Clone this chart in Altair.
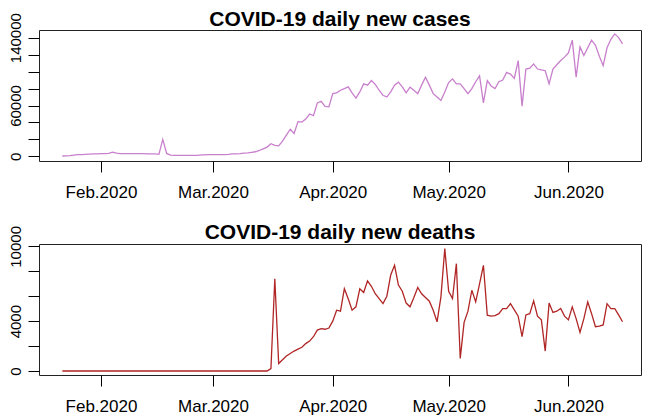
import altair as alt
import pandas as pd

# ---------------- data ----------------
start_date = "2020-01-22"

cases = [
    500, 700, 1000, 1500, 2000, 2200, 2500, 2700, 2900, 3000,
    3200, 3300, 3500, 5000, 3800, 3400, 3300, 3300, 3200, 3200,
    3200, 3200, 3100, 3100, 3000, 2500, 20000, 3500, 1500, 1200,
    1200, 1200, 1200, 1200, 1200, 1300, 1800, 1900, 2000, 2000,
    2100, 2200, 2200, 2300, 3000, 3000, 3300, 3800, 4200, 4800,
    5500, 7000, 9000, 11000, 15000, 13000, 12500, 18000, 25000, 32000,
    27000, 41000, 40500, 44000, 50000, 48000, 63000, 65000, 59000, 58500,
    74000, 75000, 78000, 80000, 82000, 75000, 68700, 76000, 85500, 84000,
    89400, 85000, 78000, 72000, 70000, 76000, 84000, 87500, 82000, 75000,
    81600, 78000, 74000, 84000, 93400, 84000, 74000, 70000, 66000, 76000,
    87000, 91400, 85500, 85500, 80000, 74000, 80000, 88000, 95000, 63000,
    89400, 83000, 80000, 88000, 90000, 99000, 97000, 92000, 113000, 59300,
    103000, 104000, 109000, 103000, 102000, 101000, 85500, 103000, 108000, 113000,
    117000, 122000, 137000, 93400, 129000, 119000, 128000, 137000, 131000, 118000,
    107000, 128000, 138000, 144400, 140000, 132600,
]

deaths = [0] * 54 + [
    200, 7400, 600, 900, 1200, 1400, 1600, 1750, 1900, 2200,
    2400, 2750, 3280, 3400, 3350, 3450, 4000, 4880, 4800, 6600,
    5800, 4880, 5150, 6600, 6300, 7230, 6800, 6200, 5800, 5410,
    6000, 7700, 8480, 6900, 6400, 5450, 5150, 5900, 6700, 6200,
    5900, 5600, 4880, 3950, 5950, 9820, 6400, 5810, 8610, 1010,
    3900, 4800, 6480, 5550, 7000, 8480, 4480, 4400, 4450, 4600,
    5010, 5000, 5400, 4900, 4400, 2750, 4500, 4600, 5630, 4400,
    4100, 1600, 5450, 4700, 4800, 5010, 4400, 4100, 5150, 4200,
    3100, 4200, 5550, 4600, 3550, 3600, 3700, 5400, 5000, 5000,
    4500, 3950,
]

month_ticks = [(2020, 2, 1), (2020, 3, 1), (2020, 4, 1), (2020, 5, 1), (2020, 6, 1)]
cases_ticks = [0, 20000, 40000, 60000, 80000, 100000, 120000, 140000]
cases_labels = [0, 60000, 140000]
deaths_ticks = [0, 2000, 4000, 6000, 8000, 10000]
deaths_labels = [0, 4000, 10000]

dates = pd.date_range(start_date, periods=len(cases), freq="D").strftime("%Y-%m-%d").tolist()
df = pd.DataFrame({"date": dates, "cases": cases, "deaths": deaths})

FONT = "Liberation Sans"

x_domain = [
    alt.DateTime(year=2020, month=1, date=15, hours=23, utc=True),
    alt.DateTime(year=2020, month=6, date=19, hours=19, utc=True),
]


def panel(field, color, title, domain, ticks, labeled):
    label_test = " || ".join(f"datum.value == {v}" for v in labeled)
    x = alt.X(
        "date:T",
        scale=alt.Scale(type="utc", domain=x_domain),
        axis=alt.Axis(
            values=[alt.DateTime(year=y, month=m, date=d, utc=True) for (y, m, d) in month_ticks],
            format="%b.%Y",
            title=None,
            grid=False,
            domain=False,
            tickSize=11,
            tickColor="black",
            tickWidth=1,
            labelPadding=12,
            labelFontSize=17,
            labelFont=FONT,
            labelColor="black",
            labelOverlap=False,
            labelFlush=False,
        ),
    )
    y = alt.Y(
        f"{field}:Q",
        scale=alt.Scale(domain=domain, nice=False, zero=False),
        axis=alt.Axis(
            values=ticks,
            labelExpr=f"({label_test}) ? format(datum.value, 'd') : ''",
            labelAngle=-90,
            labelAlign="center",
            labelBaseline="bottom",
            title=None,
            grid=False,
            domain=False,
            tickSize=11,
            tickColor="black",
            tickWidth=1,
            labelPadding=5,
            labelFontSize=15,
            labelFont=FONT,
            labelColor="black",
            labelOverlap=False,
            labelFlush=False,
        ),
    )
    return (
        alt.Chart(df)
        .mark_line(color=color, strokeWidth=1.3)
        .encode(x=x, y=y)
        .properties(
            width=602,
            height=131,
            title=alt.TitleParams(
                text=title,
                fontSize=21,
                font=FONT,
                fontWeight="bold",
                color="black",
                anchor="middle",
                frame="group",
                offset=-17,
            ),
        )
    )


top = panel("cases", "#C87FCC", "COVID-19 daily new cases", [-5400, 149000], cases_ticks, cases_labels)
bottom = panel("deaths", "#B02525", "COVID-19 daily new deaths", [-320, 10190], deaths_ticks, deaths_labels)

chart = (
    alt.vconcat(top, bottom, spacing=20)
    .properties(padding={"left": -1, "top": 0, "right": 0, "bottom": 0}, background="white")
    .configure_view(stroke="#222222", strokeWidth=1)
)

chart.save("out.html", embed_options={"renderer": "svg", "actions": False})
